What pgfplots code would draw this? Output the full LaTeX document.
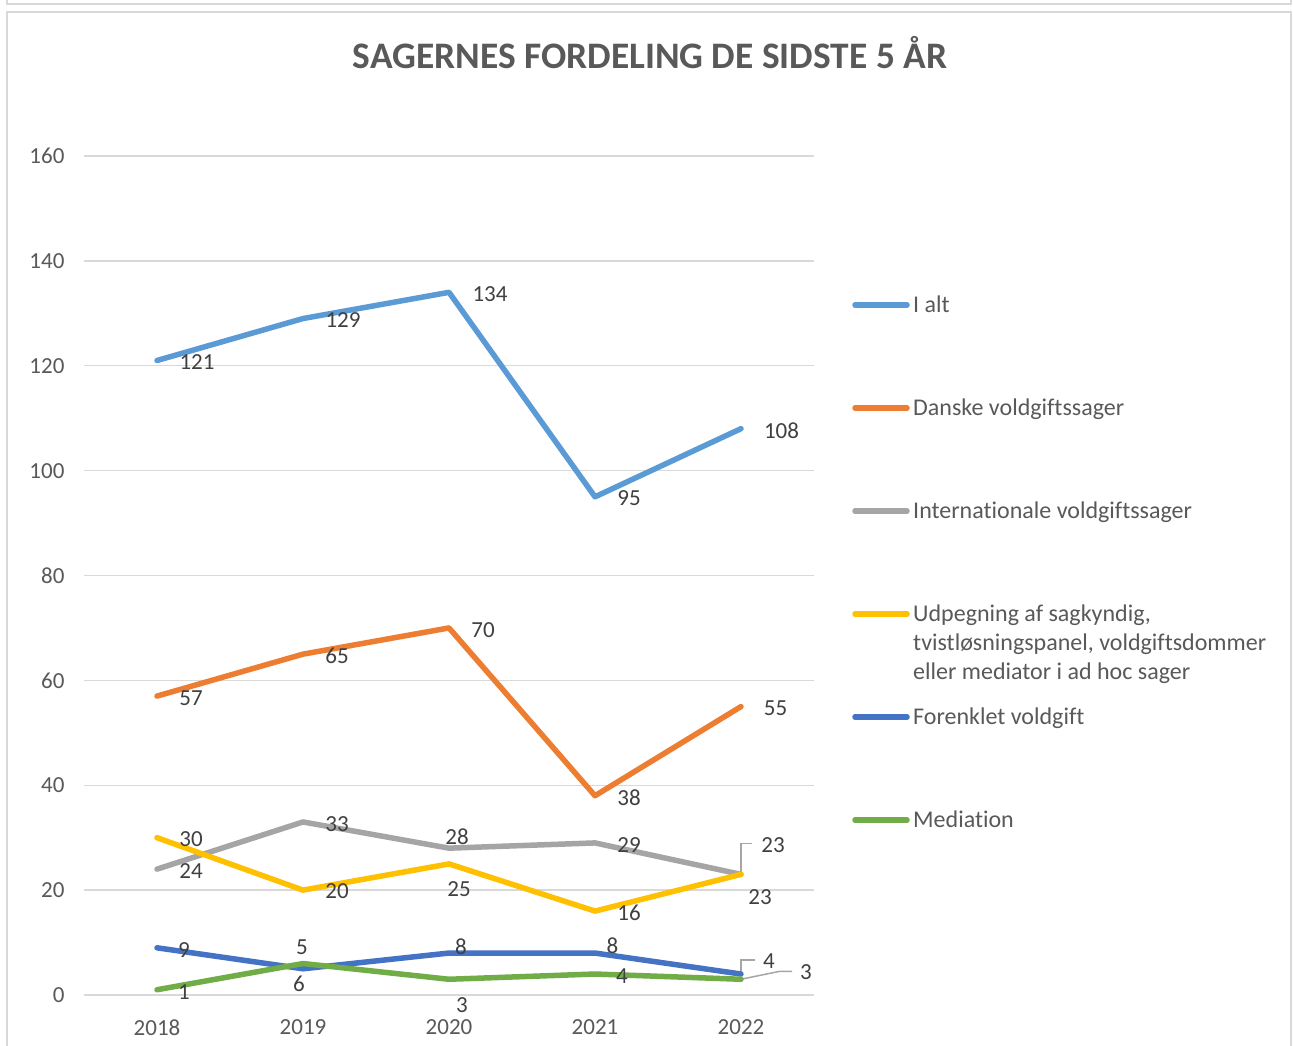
\documentclass[border=0pt]{standalone}
\usepackage{fontspec}
\setmainfont{Carlito}[Ligatures={NoCommon}]
\usepackage{pgfplots}
\pgfplotsset{compat=1.18}
\usepackage{pgfplotstable}

\definecolor{cA}{HTML}{5B9BD5}
\definecolor{cB}{HTML}{ED7D31}
\definecolor{cC}{HTML}{A5A5A5}
\definecolor{cD}{HTML}{FFC000}
\definecolor{cE}{HTML}{4472C4}
\definecolor{cF}{HTML}{70AD47}
\definecolor{gridcol}{HTML}{D9D9D9}
\definecolor{framecol}{HTML}{D9D9D9}
\definecolor{tickcol}{HTML}{595959}
\definecolor{labcol}{HTML}{404040}
\definecolor{leadcol}{HTML}{A6A6A6}

% x y dx dy  (dx,dy: offset of the data label centre from the point)
\pgfplotstableread{
x y dx dy
0 121 40 -2
1 129 40 -1.5
2 134 41 -2
3 95 34 -1
4 108 40.5 -2
}\ialt
\pgfplotstableread{
x y dx dy
0 57 34 -2
1 65 34 -2
2 70 34 -2
3 38 34 -1.5
4 55 34.5 -1.5
}\danske
\pgfplotstableread{
x y dx dy
0 24 34 -2
1 33 34 -2
2 28 8 11
3 29 34 -2
4 23 32 29.5
}\intl
\pgfplotstableread{
x y dx dy
0 30 34 -1
1 20 34 -1
2 25 10 -25
3 16 34 -2
4 23 19 -22.5
}\udp
\pgfplotstableread{
x y dx dy
0 9 27 -2
1 5 -1 22
2 8 12 6
3 8 17.5 7
4 4 28 12.5
}\forenk
\pgfplotstableread{
x y dx dy
0 1 27 -2
1 6 -4 -20
2 3 13 -26
3 4 27 -2
4 3 65 7
}\medi

\pgfplotsset{
  mylab/.style={
    nodes near coords,
    visualization depends on={\thisrow{dx}\as\dx},
    visualization depends on={\thisrow{dy}\as\dy},
    every node near coord/.append style={anchor=center, xshift=\dx pt, yshift=\dy pt,
      text=labcol, inner sep=0pt, font=\fontsize{23}{27}\selectfont},
  },
}

\begin{document}
\begin{tikzpicture}[x=1pt,y=1pt]
\useasboundingbox (0,0) rectangle (1293,1046);
\fill[white] (0,0) rectangle (1293,1046);
\draw[framecol, line width=2pt] (7,1050) -- (7,1041.5) -- (1291,1041.5) -- (1291,1050);
\draw[framecol, line width=2pt] (7,-5) -- (7,1034) -- (1291,1034) -- (1291,-5);

\begin{axis}[
  scale only axis,
  width=730pt, height=839pt,
  at={(84pt,51pt)}, anchor=south west,
  xmin=-0.5, xmax=4.5, ymin=0, ymax=160,
  xtick={0,1,2,3,4}, xticklabels={2018,2019,2020,2021,2022},
  ytick={0,20,...,160},
  ymajorgrids,
  grid style={gridcol, line width=1.3pt},
  axis line style={draw=none},
  major tick length=0pt,
  tick label style={font=\fontsize{23}{27}\selectfont, text=tickcol},
  yticklabel style={xshift=-16pt},
  xticklabel style={yshift=-21pt},
  /pgf/number format/assume math mode=true,
  clip=false,
  every axis plot/.append style={line width=5.5pt, line join=round, line cap=round, mark=none},
]
\draw[leadcol, line width=1.5pt] (axis cs:4,23) -- ++(0pt,31pt) -- ++(11pt,0pt);
\draw[leadcol, line width=1.5pt] (axis cs:4,4) ++(0pt,2pt) -- ++(0pt,12pt) -- ++(14pt,0pt);
\draw[leadcol, line width=1.5pt] (axis cs:4,3) -- ++(39pt,8pt) -- ++(12pt,0pt);
\addplot[cA, mylab] table[x=x,y=y] {\ialt};
\addplot[cB, mylab] table[x=x,y=y] {\danske};
\addplot[cC, mylab] table[x=x,y=y] {\intl};
\addplot[cD, mylab] table[x=x,y=y] {\udp};
\addplot[cE, mylab] table[x=x,y=y] {\forenk};
\addplot[cF, mylab] table[x=x,y=y] {\medi};
\end{axis}

\node[anchor=base, text=tickcol, font=\bfseries\fontsize{37.4}{43}\selectfont] at (650,977.7)
  {SAGERNES FORDELING DE SIDSTE 5 ÅR};

\begin{scope}[every node/.style={anchor=base west, text=tickcol, inner sep=0pt,
    font=\fontsize{24}{29}\selectfont, align=left}]
\draw[cA, line width=5.5pt, line cap=round] (855,741) -- (907,741);
\node at (913,733.5) {I alt};
\draw[cB, line width=5.5pt, line cap=round] (855,638) -- (907,638);
\node at (913,630.5) {Danske voldgiftssager};
\draw[cC, line width=5.5pt, line cap=round] (855,535) -- (907,535);
\node at (913,527.5) {Internationale voldgiftssager};
\draw[cD, line width=5.5pt, line cap=round] (855,432) -- (907,432);
\node at (913,366.5) {Udpegning af sagkyndig,\\tvistløsningspanel, voldgiftsdommer\\eller mediator i ad hoc sager};
\draw[cE, line width=5.5pt, line cap=round] (855,329) -- (907,329);
\node at (913,321.5) {Forenklet voldgift};
\draw[cF, line width=5.5pt, line cap=round] (855,226) -- (907,226);
\node at (913,218.5) {Mediation};
\end{scope}
\end{tikzpicture}
\end{document}
